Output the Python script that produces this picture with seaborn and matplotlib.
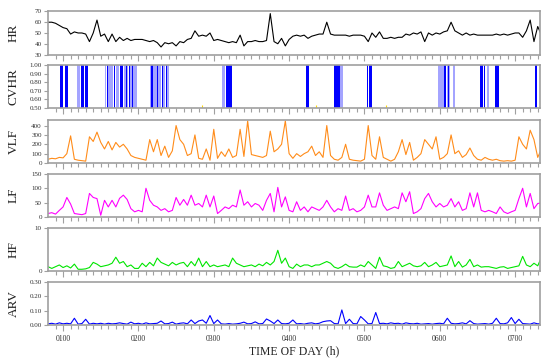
import numpy as np
import matplotlib
matplotlib.use("Agg")
import matplotlib.pyplot as plt
import seaborn as sns

# time grid (hours), one sample every 3 min starting at 00:48
start_h = 0.80
step_h = 0.05

hr = [60, 60, 59, 57, 55, 54, 49, 51, 50, 50,
      49, 42, 50, 62, 47, 49, 42, 49, 42, 46,
      43, 45, 43, 44, 44, 44, 43, 42, 43, 41,
      37, 41, 40, 41, 38, 42, 41, 44, 45, 52,
      47, 48, 47, 50, 43, 44, 43, 42, 41, 42,
      41, 48, 38, 42, 42, 43, 42, 42, 43, 68,
      42, 40, 45, 38, 44, 47, 48, 47, 48, 45,
      47, 48, 49, 49, 60, 49, 48, 48, 48, 48,
      47, 48, 48, 48, 47, 42, 50, 46, 51, 45,
      45, 46, 45, 46, 46, 49, 48, 50, 49, 51,
      42, 50, 48, 50, 49, 51, 52, 60, 52, 50,
      48, 50, 48, 49, 48, 48, 48, 48, 48, 49,
      48, 49, 48, 49, 50, 50, 46, 52, 62, 42,
      56, 48]

vlf = [40, 50, 45, 60, 55, 100, 290, 40, 30, 25,
       20, 280, 230, 330, 220, 150, 230, 140, 220, 170,
       200, 150, 80, 60, 50, 40, 30, 250, 120, 250,
       80, 180, 60, 130, 400, 250, 200, 80, 100, 300,
       50, 40, 150, 30, 360, 50, 120, 70, 150, 60,
       80, 360, 70, 450, 90, 80, 70, 60, 80, 340,
       120, 150, 200, 450, 100, 50, 100, 70, 100, 120,
       180, 80, 120, 60, 400, 80, 40, 30, 60, 200,
       40, 30, 25, 20, 40, 400, 80, 40, 280, 60,
       40, 20, 40, 120, 250, 90, 220, 30, 60, 100,
       250, 200, 150, 280, 40, 60, 100, 300, 100, 130,
       60, 90, 160, 80, 40, 30, 60, 40, 30, 40,
       25, 20, 25, 20, 30, 280, 200, 150, 350, 250,
       60, 150]

lf = [12, 15, 10, 23, 35, 68, 45, 12, 10, 8,
      12, 82, 68, 64, 6, 58, 35, 58, 35, 65,
      76, 61, 29, 18, 23, 18, 100, 58, 41, 35,
      23, 29, 18, 23, 68, 41, 61, 41, 76, 41,
      47, 35, 76, 35, 73, 12, 23, 35, 29, 41,
      35, 94, 41, 53, 35, 47, 41, 23, 58, 82,
      18, 103, 35, 70, 23, 18, 53, 23, 35, 18,
      35, 29, 23, 35, 58, 35, 18, 29, 23, 73,
      23, 29, 18, 23, 35, 76, 35, 35, 84, 41,
      23, 29, 35, 29, 84, 53, 88, 12, 18, 29,
      64, 82, 53, 35, 47, 35, 41, 64, 35, 53,
      23, 29, 84, 35, 84, 23, 18, 23, 18, 12,
      35, 18, 12, 18, 23, 64, 100, 35, 82, 29,
      47, 49]

hf = [1.0, 0.6, 1.0, 1.4, 0.8, 1.2, 0.7, 1.6, 0.4, 0.4,
      0.5, 0.8, 2.0, 1.6, 1.0, 1.2, 1.4, 1.8, 3.2, 1.8,
      2.2, 1.0, 1.4, 0.6, 0.6, 1.8, 1.0, 2.0, 1.2, 3.0,
      2.0, 1.6, 1.2, 2.0, 1.4, 1.8, 2.0, 1.0, 2.2, 1.2,
      3.0, 1.0, 2.2, 1.0, 1.4, 1.0, 1.2, 1.4, 1.0, 3.0,
      1.8, 1.4, 1.0, 1.2, 1.4, 1.0, 1.6, 1.2, 2.0, 1.4,
      2.2, 4.8, 1.8, 3.0, 1.0, 0.6, 1.6, 1.0, 1.4, 1.4,
      1.0, 1.4, 1.4, 1.8, 2.2, 1.8, 0.9, 0.6, 1.0, 1.6,
      1.0, 0.9, 0.9, 1.4, 1.0, 2.2, 1.4, 0.6, 3.2, 1.2,
      1.0, 0.6, 0.8, 2.2, 1.0, 1.4, 1.8, 1.2, 1.0, 1.2,
      2.0, 1.0, 1.4, 2.0, 1.0, 1.2, 1.4, 3.5, 1.0, 2.2,
      0.9, 1.4, 2.7, 1.0, 1.4, 0.9, 1.0, 1.0, 0.8, 0.6,
      0.9, 1.0, 0.6, 0.8, 1.0, 1.2, 3.4, 1.4, 1.0, 1.8,
      1.2, 3.2]

arv = [.008, .012, .006, .015, .008, .012, .008, .047, .006, .010,
       .040, .006, .012, .008, .012, .006, .012, .008, .010, .015,
       .010, .006, .020, .008, .012, .006, .015, .008, .010, .012,
       .028, .008, .010, .020, .006, .012, .015, .008, .035, .010,
       .028, .035, .012, .066, .010, .035, .008, .006, .010, .006,
       .008, .012, .020, .008, .010, .022, .008, .010, .042, .028,
       .010, .035, .010, .008, .012, .035, .008, .010, .006, .012,
       .015, .008, .012, .023, .028, .030, .010, .008, .105, .010,
       .040, .010, .008, .059, .035, .008, .010, .087, .010, .012,
       .008, .015, .010, .012, .006, .015, .010, .008, .012, .006,
       .008, .010, .006, .010, .012, .008, .047, .012, .008, .010,
       .015, .008, .030, .010, .006, .008, .010, .006, .012, .047,
       .010, .008, .015, .052, .010, .040, .010, .008, .006, .015,
       .008, .010]

# CVHR episodes (start h, end h)
cvhr_dark = [(0.96, 1.00), (1.02, 1.035), (1.045, 1.06), (1.24, 1.28), (1.285, 1.325),
             (1.58, 1.59), (1.67, 1.69), (1.75, 1.80), (1.84, 1.85), (1.88, 1.89),
             (1.92, 1.93), (2.17, 2.20), (2.25, 2.26), (2.31, 2.32), (2.36, 2.38),
             (3.16, 3.24), (4.22, 4.26), (4.60, 4.68), (5.03, 5.05), (5.06, 5.10),
             (6.06, 6.08), (6.115, 6.125), (6.54, 6.57), (6.59, 6.60), (6.66, 6.67),
             (6.73, 6.78), (7.27, 7.29)]
cvhr_light = [(1.19, 1.23), (1.55, 1.57), (1.60, 1.66), (1.70, 1.74), (1.81, 1.86),
              (1.87, 1.92), (1.93, 1.98), (2.16, 2.24), (2.26, 2.30), (2.32, 2.35),
              (2.38, 2.40), (3.11, 3.15), (4.68, 4.71), (5.98, 6.07), (6.09, 6.13),
              (6.18, 6.20), (6.63, 6.65)]
cvhr_marks = [2.85, 4.36, 5.29]

hour_ticks = [1, 2, 3, 4, 5, 6, 7]
hour_labels = ["0100", "0200", "0300", "0400", "0500", "0600", "0700"]

t = start_h + step_h * np.arange(len(hr))

sns.set_style("ticks")
plt.rcParams["font.family"] = ["Liberation Serif", "DejaVu Serif"]

fig = plt.figure(figsize=(5.5, 3.62), dpi=100)
left, width, height = 0.0873, 0.8945, 0.119
bottoms = [0.8494, 0.7017, 0.5497, 0.4006, 0.2514, 0.1022]
axes = [fig.add_axes([left, b, width, height]) for b in bottoms]

spine_col = "#a0a0a0"
text_col = "#303030"


def style_axis(ax, label, ylim, yticks, fmt):
    ax.set_xlim(0.80, 7.33)
    ax.set_ylim(*ylim)
    ax.set_yticks(yticks)
    ax.set_yticklabels([fmt.format(v) for v in yticks])
    ax.set_xticks(hour_ticks)
    ax.set_xticks(np.arange(0.9, 7.33, 0.1), minor=True)
    ax.set_xticklabels([])
    for s in ax.spines.values():
        s.set_visible(True)
        s.set_color(spine_col)
        s.set_linewidth(1.2)
    ax.tick_params(axis="both", which="both", direction="out", color=spine_col,
                   width=0.8, labelsize=5, labelcolor=text_col, pad=1.5)
    ax.tick_params(axis="x", which="major", length=4)
    ax.tick_params(axis="x", which="minor", length=3)
    ax.tick_params(axis="y", length=3)
    ax.set_ylabel(label, fontsize=9.5, color="#222222", labelpad=3)
    ax.set_xlabel("")
    ax.grid(False)


# HR
sns.lineplot(x=t, y=hr, ax=axes[0], color="black", linewidth=0.8)
style_axis(axes[0], "HR", (30, 70), [30, 40, 50, 60, 70], "{:.0f}")

# CVHR
ax = axes[1]
for s, e in cvhr_light:
    ax.bar((s + e) / 2, 0.5, width=e - s, bottom=0.5, color="#a4a4ff", linewidth=0)
for s, e in cvhr_dark:
    ax.bar((s + e) / 2, 0.5, width=e - s, bottom=0.5, color="#0000ff", linewidth=0)
ax.vlines(cvhr_marks, 0.5, 0.53, color="#ffd800", linewidth=0.8)
style_axis(ax, "CVHR", (0.5, 1.0), [0.5, 0.6, 0.7, 0.8, 0.9, 1.0], "{:.2f}")

# VLF
sns.lineplot(x=t, y=vlf, ax=axes[2], color="#ff8c1a", linewidth=0.8)
style_axis(axes[2], "VLF", (0, 460), [0, 100, 200, 300, 400], "{:.0f}")

# LF
sns.lineplot(x=t, y=lf, ax=axes[3], color="#ff00ff", linewidth=0.8)
style_axis(axes[3], "LF", (0, 150), [0, 50, 100, 150], "{:.0f}")

# HF
sns.lineplot(x=t, y=hf, ax=axes[4], color="#00e600", linewidth=0.8)
style_axis(axes[4], "HF", (0, 10), [0, 10], "{:.0f}")

# ARV
sns.lineplot(x=t, y=arv, ax=axes[5], color="#0000ff", linewidth=0.8)
style_axis(axes[5], "ARV", (0, 0.30), [0.0, 0.1, 0.2, 0.3], "{:.2f}")
axes[5].set_xticklabels(hour_labels)
axes[5].tick_params(axis="x", which="major", labelsize=5.5, pad=3.5)
axes[5].set_xlabel("TIME OF DAY (h)", fontsize=8.5, color="#222222", labelpad=1)

# align y labels
for ax in axes:
    ax.yaxis.set_label_coords(-0.058, 0.5)

fig.savefig("out.png", dpi=100)
